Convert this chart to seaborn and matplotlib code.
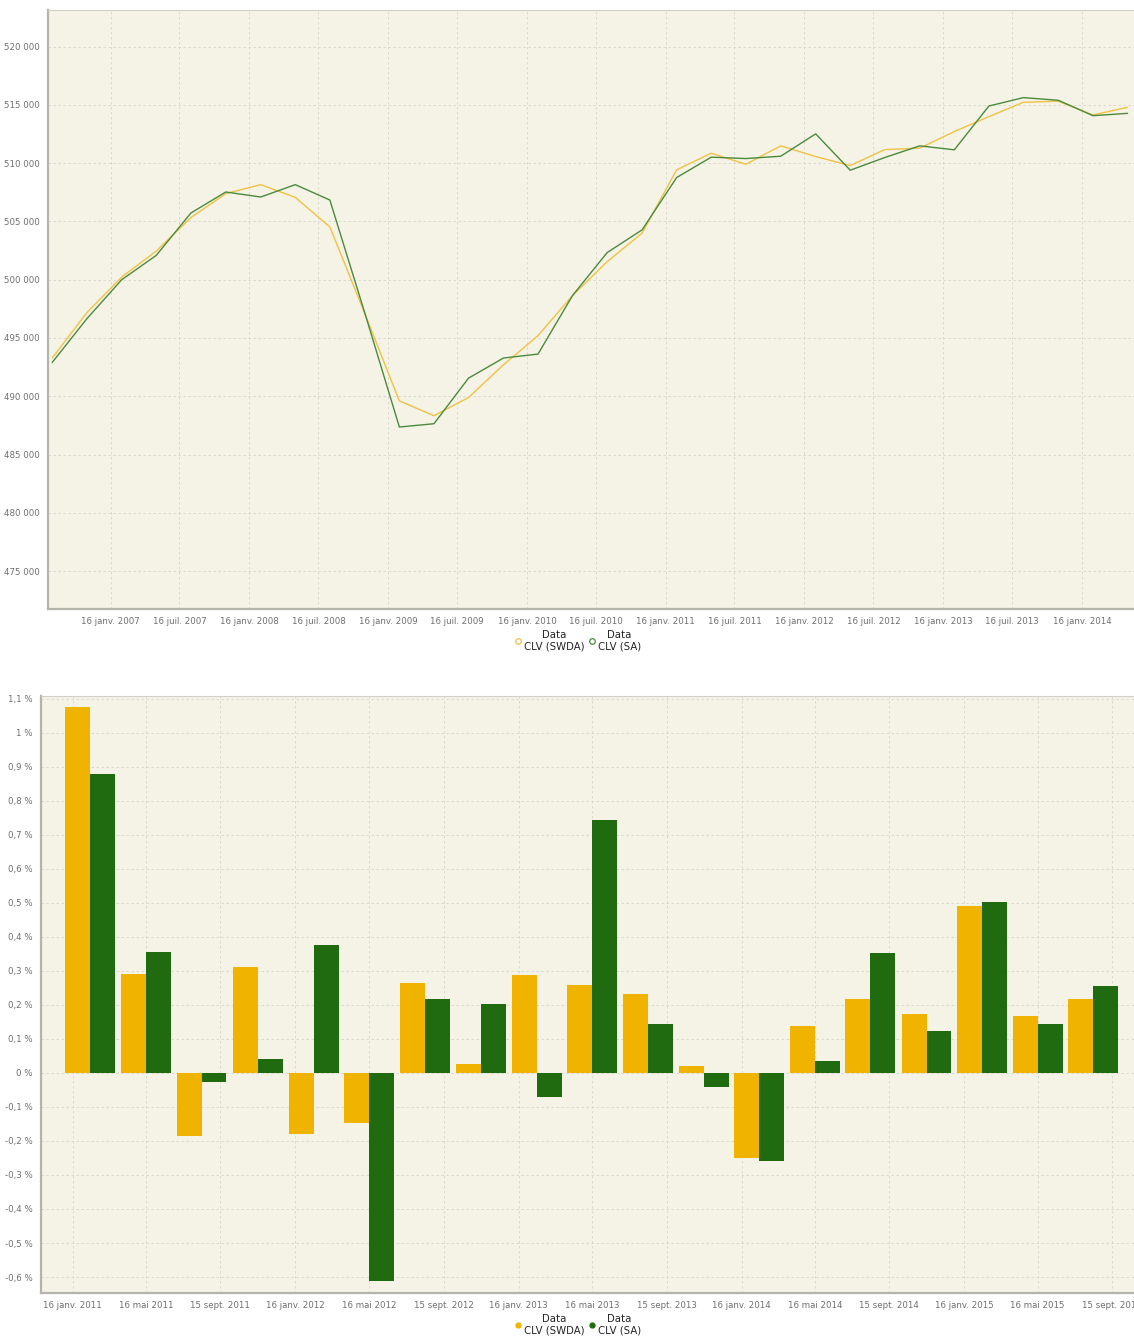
import pandas as pd
import numpy as np
import matplotlib
matplotlib.use("Agg")
import matplotlib.pyplot as plt
import matplotlib.dates as mdates
from matplotlib.lines import Line2D
from matplotlib.ticker import FuncFormatter, FixedLocator
import seaborn as sns

sns.set_style("white")
plt.rcParams['font.family'] = ['DejaVu Sans']

# --- top chart: CLV level, quarterly 2006Q3 .. 2014Q2
quarters_top = pd.period_range('2006Q3', '2014Q2', freq='Q')
clv_swda = [493280, 497200, 500230, 502460, 505330, 507390, 508160, 507070,
            504530, 497100, 489600, 488330, 489890, 492700, 495200, 498650,
            501550, 504000, 509430, 510860, 509910, 511490, 510570, 509800,
            511170, 511290, 512720, 514000, 515230, 515320, 514140, 514800]
clv_sa = [492900, 496680, 500000, 502090, 505720, 507530, 507100, 508160,
          506840, 497150, 487360, 487640, 491550, 493280, 493620, 498650,
          502330, 504280, 508770, 510520, 510400, 510600, 512520, 509400,
          510490, 511490, 511150, 514910, 515630, 515400, 514080, 514280]
top_ticks = ['2007-01-16', '2007-07-16', '2008-01-16', '2008-07-16', '2009-01-16',
             '2009-07-16', '2010-01-16', '2010-07-16', '2011-01-16', '2011-07-16',
             '2012-01-16', '2012-07-16', '2013-01-16', '2013-07-16', '2014-01-16']

# --- bottom chart: quarterly growth (%), 2011Q1 .. 2015Q3
quarters_bot = pd.period_range('2011Q1', '2015Q3', freq='Q')
growth_swda = [1.076, 0.291, -0.185, 0.312, -0.179, -0.147, 0.265, 0.026, 0.288, 0.259,
               0.232, 0.021, -0.250, 0.138, 0.218, 0.174, 0.491, 0.168, 0.218]
growth_sa = [0.879, 0.356, -0.026, 0.041, 0.376, -0.612, 0.218, 0.203, -0.071, 0.744,
             0.144, -0.041, -0.259, 0.035, 0.353, 0.124, 0.503, 0.144, 0.256]
bot_ticks = ['2011-01-16', '2011-05-16', '2011-09-15', '2012-01-16', '2012-05-16',
             '2012-09-15', '2013-01-16', '2013-05-16', '2013-09-15', '2014-01-16',
             '2014-05-16', '2014-09-15', '2015-01-16', '2015-05-16', '2015-09-15']

series_names = ['Data\nCLV (SWDA)', 'Data\nCLV (SA)']
mois = ['janv.', 'févr.', 'mars', 'avr.', 'mai', 'juin',
        'juil.', 'août', 'sept.', 'oct.', 'nov.', 'déc.']

BG = '#f5f3e6'
GRID = '#d6d5cc'
TICK = '#6e6e6e'
SPINE = '#b4b4ac'


def mid_quarter(q):
    return (q.start_time + (q.end_time - q.start_time) / 2).normalize()


def fr_date(d):
    d = pd.Timestamp(d)
    return '{} {} {}'.format(d.day, mois[d.month - 1], d.year)


def fr_pct(v, pos):
    v = round(v, 1)
    if v == 0:
        v = 0.0
    return '{:g} %'.format(v).replace('.', ',')


def style_axes(ax):
    ax.set_facecolor(BG)
    ax.grid(True, color=GRID, linestyle=(0, (3, 3)), linewidth=0.6)
    ax.set_axisbelow(True)
    ax.spines['left'].set_color(SPINE)
    ax.spines['left'].set_linewidth(1.6)
    ax.spines['bottom'].set_color(SPINE)
    ax.spines['bottom'].set_linewidth(1.6)
    ax.spines['top'].set_color('#d0d0c8')
    ax.spines['top'].set_linewidth(0.8)
    ax.spines['right'].set_visible(False)
    ax.tick_params(length=0, labelsize=6.2, colors=TICK, pad=6)
    ax.set_xlabel('')
    ax.set_ylabel('')


fig = plt.figure(figsize=(11.34, 13.36), dpi=100)
ax1 = fig.add_axes([48 / 1134, 1 - 609 / 1336, 1 - 48 / 1134, 599 / 1336])
ax2 = fig.add_axes([41 / 1134, 1 - 1293 / 1336, 1 - 41 / 1134, 597.5 / 1336])

# top: lines
df_top = pd.DataFrame({
    'date': list(quarters_top.map(mid_quarter)) * 2,
    'value': clv_swda + clv_sa,
    'series': [series_names[0]] * len(clv_swda) + [series_names[1]] * len(clv_sa),
})
line_colors = ['#f0c244', '#4b8a3d']
sns.lineplot(data=df_top, x='date', y='value', hue='series', palette=line_colors,
             linewidth=1.0, legend=False, ax=ax1)
style_axes(ax1)
ax1.set_xlim(pd.Timestamp('2006-08-04'), pd.Timestamp('2014-06-02'))
ax1.set_ylim(471740, 523150)
ax1.set_yticks(np.arange(475000, 520001, 5000))
ax1.yaxis.set_major_formatter(FuncFormatter(lambda v, p: '{:,}'.format(int(round(v))).replace(',', ' ')))
ax1.xaxis.set_major_locator(FixedLocator(mdates.date2num(pd.to_datetime(top_ticks))))
ax1.xaxis.set_major_formatter(FuncFormatter(lambda v, p: fr_date(mdates.num2date(v).replace(tzinfo=None))))

# bottom: bars on a date scale
dates_bot = mdates.date2num(list(quarters_bot.map(mid_quarter)))
df_bot = pd.DataFrame({
    'x': list(dates_bot) * 2,
    'value': growth_swda + growth_sa,
    'series': [series_names[0]] * len(growth_swda) + [series_names[1]] * len(growth_sa),
})
bar_colors = ['#f0b400', '#206b10']
sns.barplot(data=df_bot, x='x', y='value', hue='series', palette=bar_colors,
            native_scale=True, width=0.9, saturation=1, errorbar=None,
            legend=False, orient='x', linewidth=0, ax=ax2)
style_axes(ax2)
ax2.set_xlim(mdates.date2num(pd.Timestamp('2010-11-25')), mdates.date2num(pd.Timestamp('2015-10-21')))
ax2.set_ylim(-0.647, 1.1097)
ax2.set_yticks(np.round(np.arange(-0.6, 1.101, 0.1), 1))
ax2.yaxis.set_major_formatter(FuncFormatter(fr_pct))
ax2.xaxis.set_major_locator(FixedLocator(mdates.date2num(pd.to_datetime(bot_ticks))))
ax2.xaxis.set_major_formatter(FuncFormatter(lambda v, p: fr_date(mdates.num2date(v).replace(tzinfo=None))))

# legends
top_handles = [Line2D([], [], linestyle='none', marker='o', markersize=4,
                      markerfacecolor='none', markeredgecolor=c, markeredgewidth=0.9)
               for c in line_colors]
bot_handles = [Line2D([], [], linestyle='none', marker='o', markersize=3.5,
                      markerfacecolor=c, markeredgecolor=c) for c in bar_colors]
for handles, y in [(top_handles, 1 - 641 / 1336), (bot_handles, 1 - 1325 / 1336)]:
    leg = fig.legend(handles, series_names, loc='center', bbox_to_anchor=(578 / 1134, y),
                     ncol=2, frameon=False, fontsize=7.3, handlelength=0.6,
                     handletextpad=0.3, columnspacing=0.4)
    for t in leg.get_texts():
        t.set_multialignment('center')
        t.set_color('#222222')

fig.savefig('out.png', dpi=100)
